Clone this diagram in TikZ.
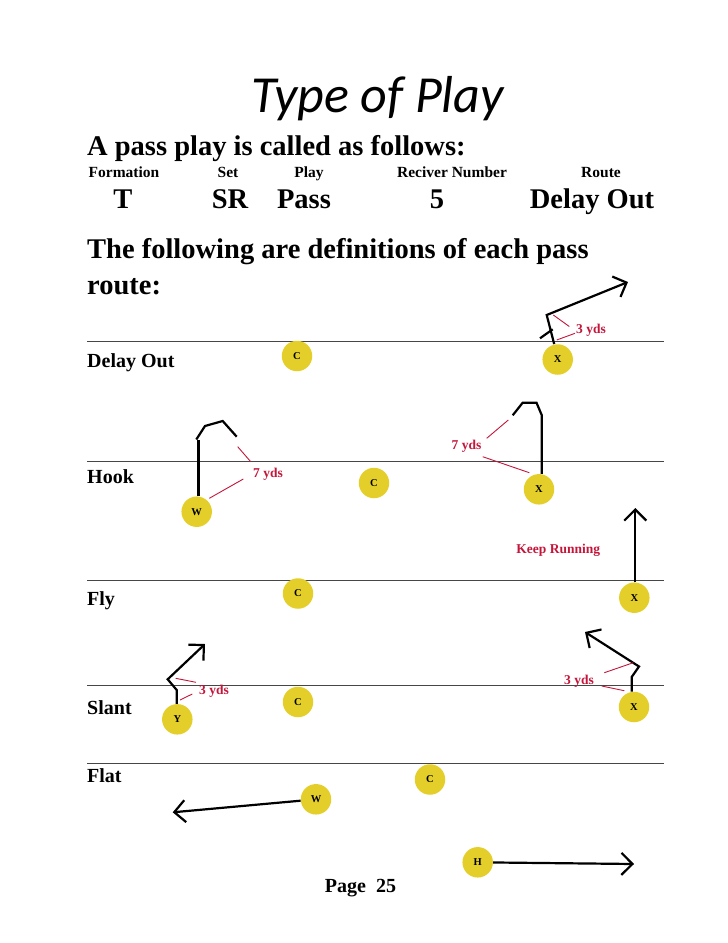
\documentclass[tikz,border=0pt]{standalone}
\usepackage{fontspec}
\setmainfont{Liberation Serif}
\newfontfamily\titlefont{Carlito}
\usetikzlibrary{arrows.meta}
\definecolor{pyellow}{RGB}{228,207,42}
\definecolor{pred}{RGB}{196,22,58}
\definecolor{fieldgray}{RGB}{70,70,70}
\tikzset{
  fieldline/.style={draw=fieldgray, line width=1.4pt},
  player/.style={circle, fill=pyellow, minimum size=30.5pt, inner sep=0pt, font=\bfseries\fontsize{10.5}{10.5}\selectfont},
  route/.style={draw=black, line width=2.2pt, line join=miter},
  tip/.style={-{Straight Barb[length=11pt,width=22pt,line width=2.2pt]}},
  measure/.style={draw=pred, line width=0.9pt},
  redlabel/.style={text=pred, font=\bfseries\fontsize{13.5}{14}\selectfont, inner sep=0pt},
  rowlabel/.style={anchor=base west, inner sep=0pt, font=\bfseries\fontsize{20}{22}\selectfont},
  heading/.style={anchor=base west, inner sep=0pt, font=\bfseries\fontsize{28.5}{30}\selectfont},
  colhead/.style={anchor=base, inner sep=0pt, font=\bfseries\fontsize{15.5}{16}\selectfont},
  colval/.style={anchor=base, inner sep=0pt, font=\bfseries\fontsize{28.5}{30}\selectfont}
}
\begin{document}
\begin{tikzpicture}[x=1pt,y=-1pt]
\useasboundingbox (0,0) rectangle (728,943);
% title and headings
\node[anchor=base, inner sep=0pt, font=\titlefont\itshape\fontsize{52}{54}\selectfont] (title) at (377.5,112) {Type of Play};
\node[heading] (h1) at (87,155) {A pass play is called as follows:};
\node[colhead] (c1) at (124,177) {Formation};
\node[colhead] (c2) at (228,177) {Set};
\node[colhead] (c3) at (309,177) {Play};
\node[colhead] (c4) at (452,177) {Reciver Number};
\node[colhead] (c5) at (601,177) {Route};
\node[colval] (v1) at (123,208) {T};
\node[colval] (v2) at (230,208) {SR};
\node[colval] (v3) at (304,208) {Pass};
\node[colval] (v4) at (437,208) {5};
\node[colval] (v5) at (592,208) {Delay Out};
\node[heading] (h2) at (87,258) {The following are definitions of each pass};
\node[heading] (h3) at (87,294) {route:};
% field lines
\draw[fieldline] (87,341.5) -- (664,341.5);
\draw[fieldline] (87,461.5) -- (664,461.5);
\draw[fieldline] (87,580.5) -- (664,580.5);
\draw[fieldline] (87,685.5) -- (664,685.5);
\draw[fieldline] (87,763.5) -- (664,763.5);
% row labels
\node[rowlabel] (r1) at (87,367) {Delay Out};
\node[rowlabel] (r2) at (87,483) {Hook};
\node[rowlabel] (r3) at (87,605) {Fly};
\node[rowlabel] (r4) at (87,714) {Slant};
\node[rowlabel] (r5) at (87,782) {Flat};
% players
\node[player] (dC) at (297,356) {C};
\node[player] (dX) at (557.7,359.5) {X};
\node[player] (hW) at (196.7,511.7) {W};
\node[player] (hC) at (374,483) {C};
\node[player] (hX) at (539,489.3) {X};
\node[player] (fC) at (298,593.5) {C};
\node[player] (fX) at (634.3,597.7) {X};
\node[player] (sY) at (177.3,719.3) {Y};
\node[player] (sC) at (298,702) {C};
\node[player] (sX) at (634,707) {X};
\node[player] (lW) at (316,799.3) {W};
\node[player] (lC) at (430,779.5) {C};
\node[player] (lH) at (477.7,862.3) {H};
% Delay Out route
\coordinate (dT) at (628,282);
\draw[route,tip] ([xshift=-3.5pt]dX.north) -- (546.7,315) -- (dT);
\draw[route] (540,338.3) -- (552.7,329.3);
\draw[measure] (553.3,315) -- (569.3,326.5);
\draw[measure] (556.7,340) -- (575,333.3);
\node[redlabel, anchor=west] (dL) at (576,330.5) {3 yds};
% Hook routes
\draw[route] ([xshift=1.8pt]hW.north) -- (198.5,440);
\draw[route] (196.3,439.5) -- (205,426) -- (222.7,421) -- (236.7,436.7);
\draw[measure] (237.7,446.7) -- (250.7,461.7);
\draw[measure] (209.3,498.3) -- (243.3,479);
\node[redlabel, anchor=west] (hL1) at (253,474) {7 yds};
\draw[route] ([xshift=2.7pt]hX.north) -- (541.7,415) -- (536.5,402.7) -- (522.7,402.7) -- (512.7,415.3);
\draw[measure] (508.3,420) -- (486.7,438.3);
\draw[measure] (482.7,456.7) -- (529.3,472.7);
\node[redlabel, anchor=west] (hL2) at (451.5,446) {7 yds};
% Fly route
\coordinate (fT) at (635.3,508);
\draw[route,tip] ([xshift=1pt]fX.north) -- (fT);
\node[redlabel] (fL) at (558.3,550) {Keep Running};
% Slant routes
\coordinate (sT1) at (205,644);
\draw[route,tip] ([xshift=-0.6pt]sY.north) -- (176.7,690) -- (167.7,679.3) -- (sT1);
\draw[measure] (175.7,678.3) -- (196,682.3);
\draw[measure] (180,700) -- (192.3,694);
\node[redlabel, anchor=west] (sL1) at (199,691) {3 yds};
\coordinate (sT2) at (585,632);
\draw[route,tip] ([xshift=-2.3pt]sX.north) -- (631.7,677) -- (639,666.5) -- (sT2);
\draw[measure] (604.3,672.7) -- (633.3,662.7);
\node[redlabel, anchor=west] (sL2) at (564,681.7) {3 yds};
\draw[measure] (601.7,686) -- (624.3,690.7);
% Flat routes
\coordinate (lT1) at (172.7,812.3);
\draw[route,tip] (lW) -- (lT1);
\coordinate (lT2) at (634,864);
\draw[route,tip] (lH) -- (lT2);
% footer
\node[anchor=base, inner sep=0pt, font=\bfseries\fontsize{20}{22}\selectfont] (pg) at (360.5,892) {Page~~25};
\end{tikzpicture}
\end{document}
